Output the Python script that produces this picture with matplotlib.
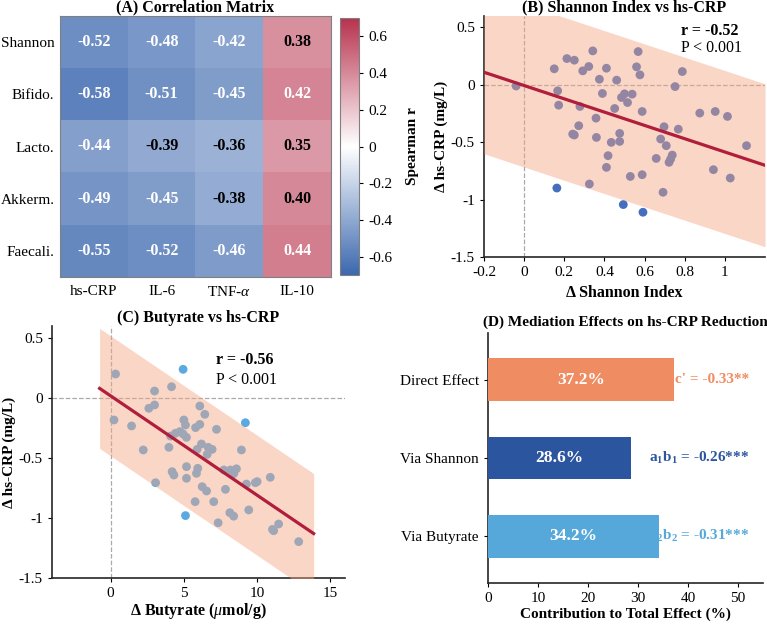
import numpy as np
import matplotlib
matplotlib.use("Agg")
import matplotlib.pyplot as plt
from matplotlib.colors import LinearSegmentedColormap

plt.rcParams['font.family'] = ['Liberation Serif', 'DejaVu Serif']
plt.rcParams['mathtext.fontset'] = 'custom'
plt.rcParams['mathtext.rm'] = 'Liberation Serif'
plt.rcParams['mathtext.it'] = 'Liberation Serif:italic'
plt.rcParams['mathtext.bf'] = 'Liberation Serif:bold'
plt.rcParams['font.size'] = 11
plt.rcParams['xtick.direction'] = 'out'
plt.rcParams['ytick.direction'] = 'out'

# ---- data ----
taxa = ["Shannon", "Bifido.", "Lacto.", "Akkerm.", "Faecali."]
markers = ["hs-CRP", "IL-6", r"TNF-$\mathit{\alpha}$", "IL-10"]
corr = [
    [-0.52, -0.48, -0.42, 0.38],
    [-0.58, -0.51, -0.45, 0.42],
    [-0.44, -0.39, -0.36, 0.35],
    [-0.49, -0.45, -0.38, 0.40],
    [-0.55, -0.52, -0.46, 0.44],
]

shannon_x = [-0.04, 0.15, 0.213, 0.25, 0.342, 0.322, 0.292, 0.41, 0.375, 0.461,
             0.568, 0.56, 0.577, 0.788, 0.752, 0.167, 0.172, 0.278, 0.39, 0.485,
             0.50, 0.515, 0.538, 0.451, 0.588, 0.358, 0.272, 0.242, 0.25, 0.36,
             0.476, 0.434, 0.476, 0.418, 0.41, 0.529, 0.325, 0.163, 0.494, 0.592,
             0.588, 0.875, 0.952, 1.013, 0.697, 0.768, 0.68, 0.708, 1.108, 0.658,
             0.738, 0.73, 0.722, 0.943, 1.027, 0.692]
shannon_y = [-0.01, 0.14, 0.229, 0.215, 0.296, 0.16, 0.122, 0.145, 0.049, 0.041,
             0.29, 0.157, 0.087, 0.116, -0.015, -0.052, -0.177, -0.188, -0.075, -0.11,
             -0.078, -0.154, -0.081, -0.206, -0.232, -0.29, -0.356, -0.429, -0.437, -0.458,
             -0.423, -0.501, -0.493, -0.617, -0.719, -0.798, -0.864, -0.899, -1.043, -1.11,
             -0.783, -0.246, -0.232, -0.275, -0.365, -0.386, -0.472, -0.53, -0.53, -0.641,
             -0.612, -0.646, -0.675, -0.739, -0.812, -0.936]

butyrate_x = [0.34, 0.23, 1.43, 2.23, 2.61, 3.0, 3.0, 4.16, 4.95, 3.07,
              3.98, 4.09, 4.43, 4.73, 4.95, 5.18, 5.0, 5.11, 6.09, 6.43,
              6.09, 5.8, 7.23, 6.2, 5.91, 6.66, 6.93, 6.59, 4.2, 4.32,
              5.18, 5.95, 5.86, 5.18, 6.25, 6.55, 7.84, 7.73, 8.18, 8.41,
              8.59, 5.77, 7.04, 5.11, 7.34, 8.14, 8.4, 9.2, 8.93, 9.27,
              9.88, 10.0, 10.9, 9.43, 11.13, 11.47, 12.84, 11.05]
butyrate_y = [0.2, -0.183, -0.233, -0.433, -0.086, -0.058, 0.058, 0.094, 0.239, -0.706,
              -0.411, -0.317, -0.294, -0.28, -0.30, -0.328, -0.183, -0.225, -0.067, -0.136,
              -0.22, -0.247, -0.261, -0.383, -0.428, -0.411, -0.428, -0.47, -0.614, -0.642,
              -0.572, -0.586, -0.628, -0.669, -0.739, -0.775, -0.761, -0.6, -0.6, -0.63,
              -0.59, -0.864, -0.864, -0.98, -1.04, -0.956, -0.985, -0.206, -0.433, -0.717,
              -0.706, -0.697, -0.661, -0.933, -1.106, -1.05, -1.197, -1.095]

# fitted lines: slope, intercept, band half width, x span
fit_b = (-0.579, -0.006, 0.71, (-0.2, 1.2))
fit_c = (-0.0828, 0.018, 0.5, (-0.75, 13.86))

paths = ["Direct Effect", "Via Shannon", "Via Butyrate"]
contrib = [37.2, 28.6, 34.2]
path_notes = ["c' = -0.33**",
              r"a$_{\mathbf{1}}$b$_{\mathbf{1}}$ = -0.26***",
              r"a$_{\mathbf{2}}$b$_{\mathbf{2}}$ = -0.31***"]
path_colors = ["#F08C62", "#2C55A0", "#56A8DA"]

# ---- figure ----
W, H = 767, 624
fig = plt.figure(figsize=(W / 100, H / 100), dpi=100)

def px_axes(x0, y0, x1, y1):
    return fig.add_axes([x0 / W, 1 - y1 / H, (x1 - x0) / W, (y1 - y0) / H])

# (A) heatmap
cmap = LinearSegmentedColormap.from_list("bwr_m", ["#2B5BA8", "#FFFFFF", "#B2203E"])
axA = px_axes(60, 16, 331, 277)
vals = np.array(corr)
im = axA.imshow(vals, cmap=cmap, vmin=-0.7, vmax=0.7, aspect="auto", alpha=0.92)
for i in range(vals.shape[0]):
    for j in range(vals.shape[1]):
        v = vals[i, j]
        axA.text(j, i, f"{v:.2f}", ha="center", va="center", fontsize=11.5,
                 fontweight="bold", color="white" if abs(v) > 0.4 else "black")
axA.set_xticks(range(len(markers)))
axA.set_xticklabels(markers)
axA.set_yticks(range(len(taxa)))
axA.set_yticklabels(taxa)
axA.tick_params(axis="y", length=0, pad=4)
axA.tick_params(axis="x", length=0, pad=6)
for s in axA.spines.values():
    s.set_color("#808080")
axA.set_title("(A) Correlation Matrix", fontweight="bold", fontsize=11.5, pad=3)

cax = px_axes(340, 18, 359, 275)
cb = fig.colorbar(im, cax=cax)
cb.set_ticks([-0.6, -0.4, -0.2, 0, 0.2, 0.4, 0.6])
cb.set_ticklabels(["-0.6", "-0.4", "-0.2", "0", "0.2", "0.4", "0.6"])
cb.ax.tick_params(labelsize=11, length=3)
cb.outline.set_edgecolor("#808080")
cb.set_label("Spearman r", fontweight="bold", fontsize=11, labelpad=10)


def scatter_panel(ax, x, y, fit, color, xlim, xticks, xticklabels):
    slope, icpt, half, span = fit
    xs = np.linspace(span[0], span[1], 50)
    ys = slope * xs + icpt
    ax.scatter(x, y, s=40, color=color, edgecolors="none", zorder=2)
    ax.fill_between(xs, ys - half, ys + half, color="#F4A582", alpha=0.45,
                    linewidth=0, zorder=3)
    ax.plot(xs, ys, color="#B01E3C", lw=2.3, zorder=4)
    ax.axhline(0, color="#AAAAAA", ls="--", lw=0.9, zorder=1)
    ax.axvline(0, color="#AAAAAA", ls="--", lw=0.9, zorder=1)
    ax.set_xlim(*xlim)
    ax.set_ylim(-1.5, 0.6)
    ax.set_xticks(xticks)
    ax.set_xticklabels(xticklabels)
    ax.set_yticks([-1.5, -1, -0.5, 0, 0.5])
    ax.set_yticklabels(["-1.5", "-1", "-0.5", "0", "0.5"])
    ax.spines["top"].set_visible(False)
    ax.spines["right"].set_visible(False)
    for s in ("left", "bottom"):
        ax.spines[s].set_linewidth(1.2)
        ax.spines[s].set_color("#262626")
    ax.tick_params(labelsize=11, length=3)
    ax.set_ylabel("Δ hs-CRP (mg/L)", fontweight="bold", fontsize=11, labelpad=2)


# (B) Shannon vs hs-CRP
axB = px_axes(484, 16, 765, 257)
scatter_panel(axB, shannon_x, shannon_y, fit_b, "#466EBE", (-0.2, 1.2),
              [-0.2, 0, 0.2, 0.4, 0.6, 0.8, 1.0],
              ["-0.2", "0", "0.2", "0.4", "0.6", "0.8", "1"])
axB.set_xlabel("Δ Shannon Index", fontweight="bold", fontsize=11.5, labelpad=4)
axB.set_title("(B) Shannon Index vs hs-CRP", fontweight="bold", fontsize=11.5, pad=3)
axB.text(0.78, 0.468, "r = -0.52", fontweight="bold", fontsize=11.5, va="center")
axB.text(0.78, 0.323, "P < 0.001", fontsize=11.5, va="center")

# (C) Butyrate vs hs-CRP
axC = px_axes(52, 326, 345, 578)
scatter_panel(axC, butyrate_x, butyrate_y, fit_c, "#5AAAE1", (-4, 16),
              [0, 5, 10, 15], ["0", "5", "10", "15"])
axC.set_xlabel(r"Δ Butyrate ($\mathit{\mu}$mol/g)", fontweight="bold", fontsize=11.5, labelpad=1)
axC.set_title("(C) Butyrate vs hs-CRP", fontweight="bold", fontsize=11.5, pad=3)
axC.text(7.2, 0.317, "r = -0.56", fontweight="bold", fontsize=11.5, va="center")
axC.text(7.2, 0.15, "P < 0.001", fontsize=11.5, va="center")

# (D) mediation bars
axD = px_axes(488, 333, 763, 583)
ypos = np.arange(1, len(paths) + 1)
axD.barh(ypos, contrib, height=0.55, color=path_colors, zorder=3)
for yy, v, note, c in zip(ypos, contrib, path_notes, path_colors):
    axD.text(v / 2, yy, f"{v:.1f}%", ha="center", va="center", color="white",
             fontweight="bold", fontsize=12.5, zorder=4)
    axD.text(52.2, yy, note, ha="right", va="center", color=c,
             fontweight="bold", fontsize=11, zorder=2)
axD.set_ylim(3.6, 0.4)
axD.set_xlim(0, 55)
axD.set_yticks(ypos)
axD.set_yticklabels(paths)
axD.set_xticks([0, 10, 20, 30, 40, 50])
axD.spines["top"].set_visible(False)
axD.spines["right"].set_visible(False)
for s in ("left", "bottom"):
    axD.spines[s].set_linewidth(1.2)
    axD.spines[s].set_color("#262626")
axD.tick_params(labelsize=11, length=3)
axD.set_xlabel("Contribution to Total Effect (%)", fontweight="bold", fontsize=11, labelpad=2)
axD.set_title("(D) Mediation Effects on hs-CRP Reduction", fontweight="bold", fontsize=11, pad=5)

fig.savefig("out.png", dpi=100)
